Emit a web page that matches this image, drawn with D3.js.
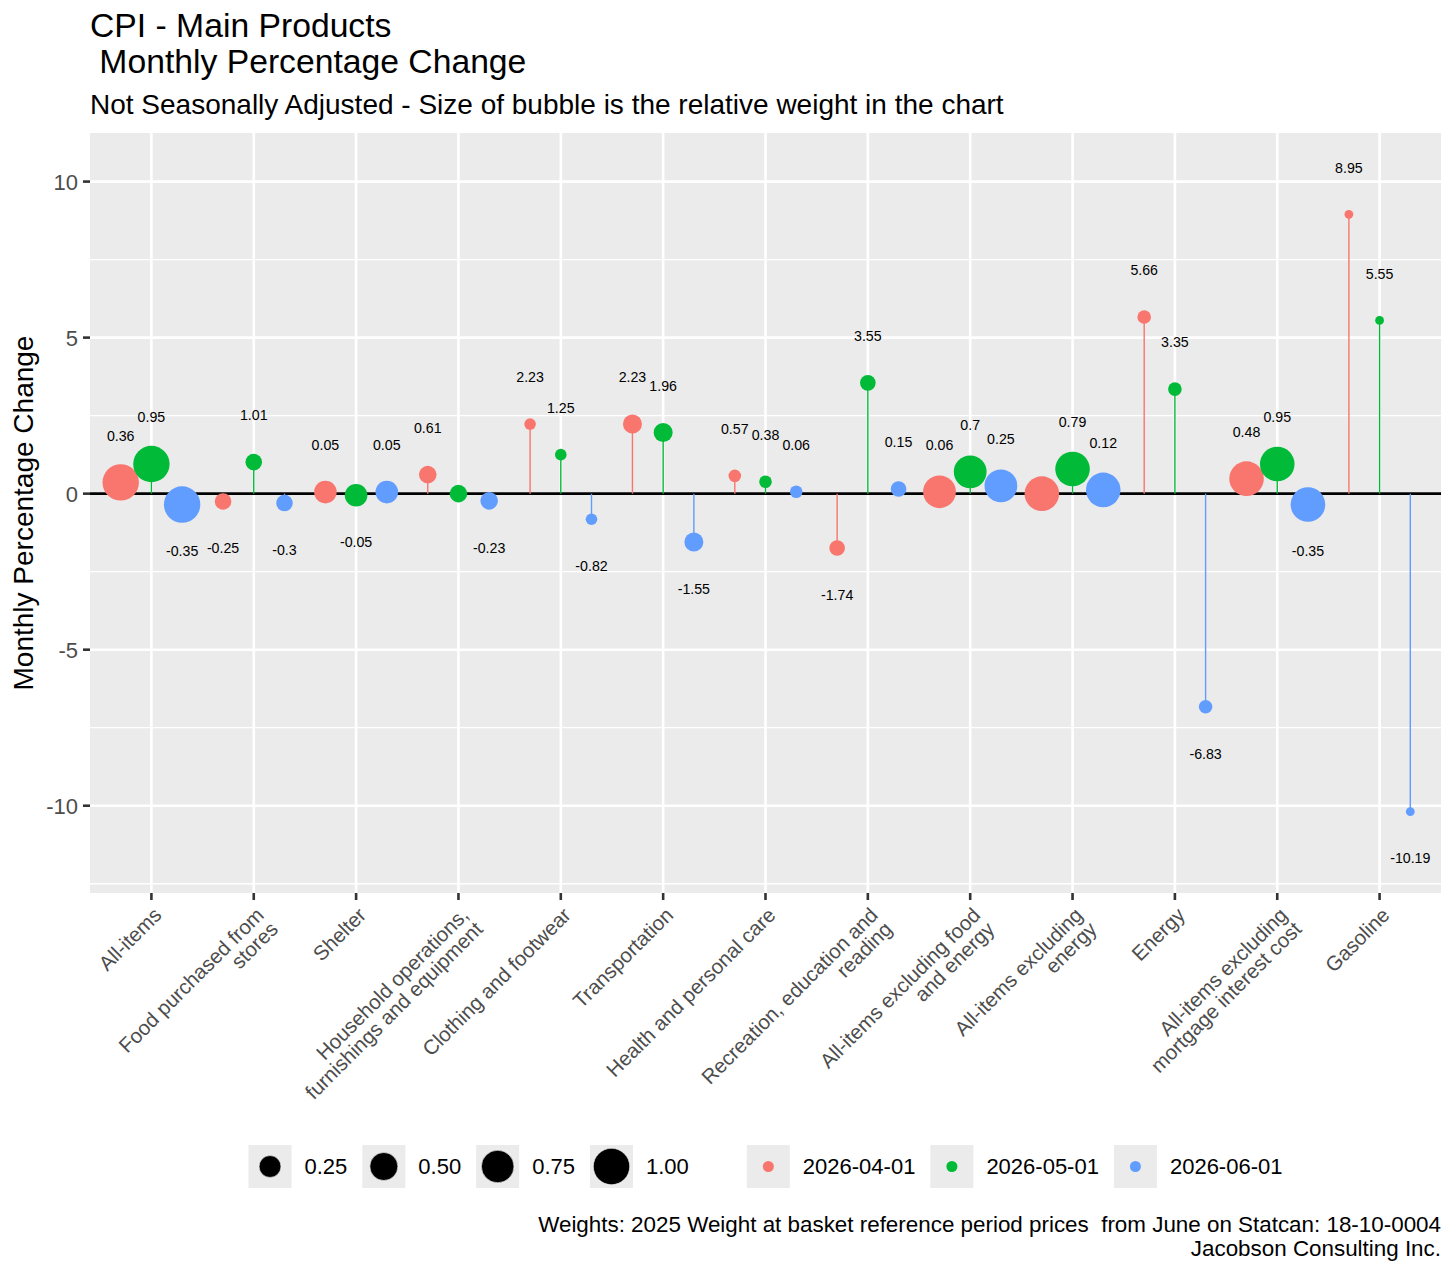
<!DOCTYPE html>
<html lang="en">
<head>
  <meta charset="UTF-8">
  <title>CPI - Main Products, Monthly Percentage Change</title>
  <script src="https://d3js.org/d3.v7.min.js"></script>
  <style>
    body { margin: 0; background: #fff; }
    svg { display: block; font-family: "Liberation Sans", Arial, sans-serif; }
  </style>
</head>
<body>
<svg id="chart" width="1456" height="1274"></svg>

<script>
  // categories and their axis labels (wrapped like the original)
  const categories = [
    "All-items", "Food purchased from stores", "Shelter",
    "Household operations, furnishings and equipment", "Clothing and footwear",
    "Transportation", "Health and personal care", "Recreation, education and reading",
    "All-items excluding food and energy", "All-items excluding energy", "Energy",
    "All-items excluding mortgage interest cost", "Gasoline"
  ];
  const tickLabels = [
    ["All-items"], ["Food purchased from", "stores"], ["Shelter"],
    ["Household operations,", "furnishings and equipment"], ["Clothing and footwear"],
    ["Transportation"], ["Health and personal care"], ["Recreation, education and", "reading"],
    ["All-items excluding food", "and energy"], ["All-items excluding", "energy"], ["Energy"],
    ["All-items excluding", "mortgage interest cost"], ["Gasoline"]
  ];

  // relative basket weight (bubble size)
  const weights = [1.0, 0.111, 0.275, 0.132, 0.044, 0.166, 0.052, 0.093, 0.764, 0.878, 0.063, 0.878, 0.034];

  // monthly % change by month
  const months = ["2026-04-01", "2026-05-01", "2026-06-01"];
  const april = [0.36, -0.25, 0.05, 0.61, 2.23, 2.23, 0.57, -1.74, 0.06, 0, 5.66, 0.48, 8.95];
  const may   = [0.95, 1.01, -0.05, 0, 1.25, 1.96, 0.38, 3.55, 0.7, 0.79, 3.35, 0.95, 5.55];
  const june  = [-0.35, -0.3, 0.05, -0.23, -0.82, -1.55, 0.06, 0.15, 0.25, 0.12, -6.83, -0.35, -10.19];
  const yTicks = [-10, -5, 0, 5, 10];
  const sizeBreaks = [0.25, 0.5, 0.75, 1.0];

  const colors = ["#F8766D", "#00BA38", "#619CFF"];
  const seriesValues = [april, may, june];
  const labelNudge = 1.5;

  const svg = d3.select("#chart");
  const panel = { left: 90, right: 1441, top: 133, bottom: 893 };

  // long table
  const rows = [];
  categories.forEach((c, i) => {
    months.forEach((m, j) => {
      rows.push({ cat: c, month: j, value: seriesValues[j][i], weight: weights[i] });
    });
  });

  // scales
  const x = d3.scalePoint().domain(categories).range([panel.left, panel.right]).padding(0.6);
  const dodge = 0.3 * x.step();
  const offsets = [-dodge, 0, dodge];

  const labY = rows.filter(d => d.value !== 0).map(d => d.value > 0 ? d.value + labelNudge : d.value - labelNudge);
  let lo = d3.min(rows.map(d => d.value).concat(labY));
  let hi = d3.max(rows.map(d => d.value).concat(labY));
  const pad = (hi - lo) * 0.05;
  const y = d3.scaleLinear().domain([lo - pad, hi + pad]).range([panel.bottom, panel.top]);

  // ggplot style: rescale weight then sqrt for area
  const wRescale = d3.scaleLinear().domain(d3.extent(weights)).range([0, 1]);
  const rArea = d3.scaleSqrt().domain([0, 1]).range([4.4, 18.2]);
  const radius = w => rArea(Math.max(0, wRescale(w)));

  // panel
  svg.append("rect")
    .attr("x", panel.left).attr("y", panel.top)
    .attr("width", panel.right - panel.left).attr("height", panel.bottom - panel.top)
    .attr("fill", "#EBEBEB");

  const minor = [];
  for (let v = Math.ceil((lo - pad) / 2.5) * 2.5; v <= hi + pad; v += 2.5) {
    if (!yTicks.includes(v)) minor.push(v);
  }
  svg.append("g").selectAll("line").data(minor).join("line")
    .attr("x1", panel.left).attr("x2", panel.right)
    .attr("y1", d => y(d)).attr("y2", d => y(d))
    .attr("stroke", "#fff").attr("stroke-width", 1.3);
  svg.append("g").selectAll("line").data(yTicks).join("line")
    .attr("x1", panel.left).attr("x2", panel.right)
    .attr("y1", d => y(d)).attr("y2", d => y(d))
    .attr("stroke", "#fff").attr("stroke-width", 2.6);
  svg.append("g").selectAll("line").data(categories).join("line")
    .attr("x1", d => x(d)).attr("x2", d => x(d))
    .attr("y1", panel.top).attr("y2", panel.bottom)
    .attr("stroke", "#fff").attr("stroke-width", 2.6);

  // zero line
  svg.append("line")
    .attr("x1", panel.left).attr("x2", panel.right)
    .attr("y1", y(0)).attr("y2", y(0))
    .attr("stroke", "#000").attr("stroke-width", 2.6);

  // lollipop sticks
  svg.append("g").selectAll("line").data(rows).join("line")
    .attr("x1", d => x(d.cat) + offsets[d.month]).attr("x2", d => x(d.cat) + offsets[d.month])
    .attr("y1", y(0)).attr("y2", d => y(d.value))
    .attr("stroke", d => colors[d.month]).attr("stroke-width", 1.4);

  // bubbles
  svg.append("g").selectAll("circle").data(rows).join("circle")
    .attr("cx", d => x(d.cat) + offsets[d.month])
    .attr("cy", d => y(d.value))
    .attr("r", d => radius(d.weight))
    .attr("fill", d => colors[d.month]);

  // value labels
  svg.append("g").selectAll("text").data(rows.filter(d => d.value !== 0)).join("text")
    .attr("x", d => x(d.cat) + offsets[d.month])
    .attr("y", d => y(d.value > 0 ? d.value + labelNudge : d.value - labelNudge))
    .attr("dy", "0.35em")
    .attr("text-anchor", "middle")
    .attr("font-size", 14.2)
    .attr("fill", "#000")
    .text(d => String(d.value));

  // y axis
  const yAxis = svg.append("g");
  yAxis.selectAll("line").data(yTicks).join("line")
    .attr("x1", panel.left - 7).attr("x2", panel.left)
    .attr("y1", d => y(d)).attr("y2", d => y(d))
    .attr("stroke", "#333").attr("stroke-width", 2.6);
  yAxis.selectAll("text").data(yTicks).join("text")
    .attr("x", panel.left - 12).attr("y", d => y(d))
    .attr("dy", "0.36em").attr("text-anchor", "end")
    .attr("font-size", 22).attr("fill", "#4D4D4D")
    .text(d => d);

  // x axis
  const xAxis = svg.append("g");
  xAxis.selectAll("line").data(categories).join("line")
    .attr("x1", d => x(d)).attr("x2", d => x(d))
    .attr("y1", panel.bottom).attr("y2", panel.bottom + 7)
    .attr("stroke", "#333").attr("stroke-width", 2.6);
  const xt = xAxis.selectAll("text").data(categories).join("text")
    .attr("transform", d => `translate(${x(d)},${panel.bottom + 12}) rotate(-45)`)
    .attr("text-anchor", "end")
    .attr("font-size", 20.5).attr("fill", "#4D4D4D");
  xt.each(function(d, i) {
    const t = d3.select(this);
    tickLabels[i].forEach((line, k) => {
      t.append("tspan").attr("x", 0).attr("y", 16 + k * 20).text(line);
    });
  });

  // axis title
  svg.append("text")
    .attr("transform", `translate(33,${(panel.top + panel.bottom) / 2}) rotate(-90)`)
    .attr("text-anchor", "middle")
    .attr("font-size", 28).attr("fill", "#000")
    .text("Monthly Percentage Change");

  // titles
  svg.append("text").attr("x", 90).attr("y", 37)
    .attr("font-size", 33.7).attr("fill", "#000")
    .text("CPI - Main Products");
  svg.append("text").attr("x", 90).attr("y", 73)
    .attr("font-size", 33.7).attr("fill", "#000")
    .style("white-space", "pre")
    .text(" Monthly Percentage Change");
  svg.append("text").attr("x", 90).attr("y", 114)
    .attr("font-size", 28).attr("fill", "#000")
    .text("Not Seasonally Adjusted - Size of bubble is the relative weight in the chart");

  // caption
  svg.append("text").attr("x", 1441).attr("y", 1232)
    .attr("text-anchor", "end").attr("font-size", 22.4).attr("fill", "#000")
    .style("white-space", "pre")
    .text("Weights: 2025 Weight at basket reference period prices  from June on Statcan: 18-10-0004");
  svg.append("text").attr("x", 1441).attr("y", 1256)
    .attr("text-anchor", "end").attr("font-size", 22.4).attr("fill", "#000")
    .text("Jacobson Consulting Inc.");

  // legends
  const keySize = 43;
  const legendY = 1145;
  const legend = svg.append("g");
  let cursor = 0;
  const items = [];
  sizeBreaks.forEach(b => items.push({ type: "size", value: b, label: d3.format(".2f")(b) }));
  items.push({ type: "gap" });
  months.forEach((m, j) => items.push({ type: "color", value: j, label: m }));

  items.forEach(it => {
    if (it.type === "gap") { cursor += 43; return; }
    const g = legend.append("g").attr("transform", `translate(${cursor},${legendY})`);
    g.append("rect").attr("width", keySize).attr("height", keySize).attr("fill", "#EBEBEB");
    g.append("circle")
      .attr("cx", keySize / 2).attr("cy", keySize / 2)
      .attr("r", it.type === "size" ? radius(it.value) : 5.5)
      .attr("fill", it.type === "size" ? "#000" : colors[it.value])
      .attr("stroke", it.type === "size" ? "#fff" : "none").attr("stroke-width", 0.6);
    const t = g.append("text")
      .attr("x", keySize + 13).attr("y", keySize / 2).attr("dy", "0.36em")
      .attr("font-size", 22).attr("fill", "#000")
      .text(it.label);
    cursor += keySize + 13 + t.node().getComputedTextLength() + 15;
  });
  const legendWidth = cursor - 15;
  legend.attr("transform", `translate(${(panel.left + panel.right) / 2 - legendWidth / 2},0)`);
</script>
</body>
</html>
